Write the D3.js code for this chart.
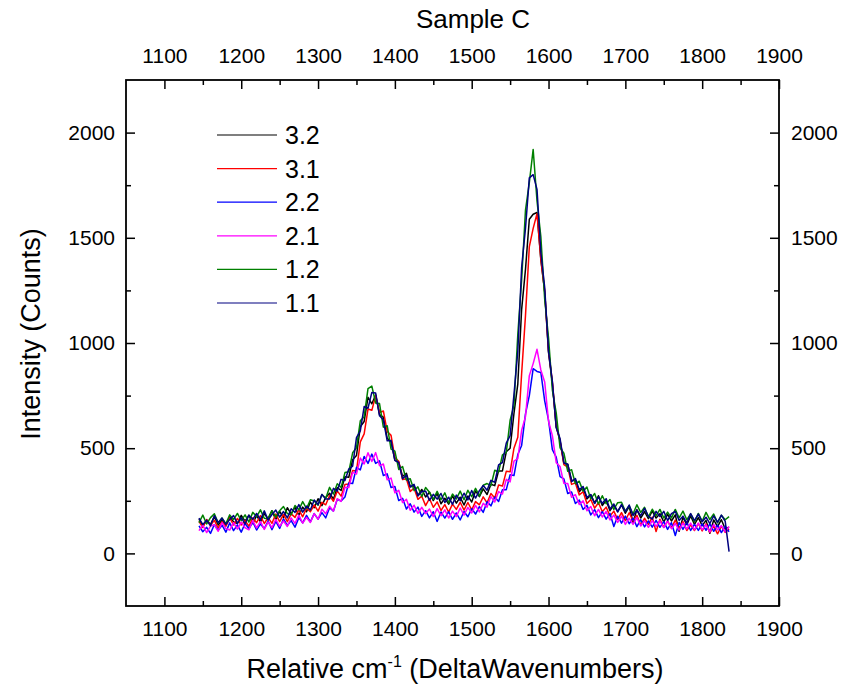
<!DOCTYPE html>
<html>
<head>
<meta charset="utf-8">
<script src="https://cdn.jsdelivr.net/npm/d3@7"></script>
<style>
  body { margin: 0; background: #fff; }
  text { font-family: Arial, "Liberation Sans", sans-serif; fill: #000; }
</style>
</head>
<body>
<div id="chart"></div>
<script>
var wavenumbers = [
  1145,1150,1155,1160,1165,1170,1175,1180,1185,1190,
  1195,1200,1205,1210,1215,1220,1225,1230,1235,1240,
  1245,1250,1255,1260,1265,1270,1275,1280,1285,1290,
  1295,1300,1305,1310,1315,1320,1325,1330,1335,1340,
  1345,1350,1355,1360,1365,1370,1375,1380,1385,1390,
  1395,1400,1405,1410,1415,1420,1425,1430,1435,1440,
  1445,1450,1455,1460,1465,1470,1475,1480,1485,1490,
  1495,1500,1505,1510,1515,1520,1525,1530,1535,1540,
  1545,1550,1555,1560,1565,1570,1575,1580,1585,1590,
  1595,1600,1605,1610,1615,1620,1625,1630,1635,1640,
  1645,1650,1655,1660,1665,1670,1675,1680,1685,1690,
  1695,1700,1705,1710,1715,1720,1725,1730,1735,1740,
  1745,1750,1755,1760,1765,1770,1775,1780,1785,1790,
  1795,1800,1805,1810,1815,1820,1825,1830,1835
];

var s32 = [
  163,129,158,138,174,135,159,131,175,150,
  142,181,153,182,141,180,150,189,165,203,
  160,199,171,217,188,219,181,220,198,244,
  217,260,227,266,286,258,313,299,364,362,
  445,465,602,627,742,711,753,660,648,547,
  532,442,434,366,381,317,320,276,304,268,
  291,251,285,236,262,234,273,239,267,230,
  273,244,297,270,307,280,329,322,392,392,
  483,500,665,805,1160,1350,1588,1612,1620,1395,
  1245,955,807,600,536,428,424,347,348,293,
  313,259,279,239,274,228,252,203,230,199,
  230,191,223,146,208,168,198,165,202,168,
  189,149,186,154,183,105,171,137,178,138,
  170,132,157,96,159,127,160,116,124
];

var s31 = [
  152,123,161,133,157,121,150,130,169,135,
  166,135,155,129,169,146,179,142,170,143,
  187,151,185,151,188,171,208,174,215,198,
  230,201,243,231,275,248,297,272,327,330,
  394,392,530,568,686,680,750,670,677,580,
  561,455,438,351,355,294,310,257,272,227,
  261,219,245,204,232,196,234,209,243,206,
  242,207,246,231,269,240,285,263,325,320,
  390,388,500,552,855,1130,1458,1545,1615,1400,
  1245,965,814,608,534,422,410,328,335,278,
  293,237,256,215,241,198,220,178,201,162,
  194,156,193,154,181,136,167,138,172,104,
  162,124,153,121,158,120,151,109,136,109,
  142,107,141,99,130,93,129,100,115
];

var s22 = [
  131,103,124,95,137,110,134,101,145,108,
  136,101,142,117,149,111,140,118,154,113,
  152,119,164,133,156,125,170,145,181,150,
  189,163,194,169,217,201,257,249,268,335,
  332,409,397,461,428,472,428,440,370,378,
  313,318,251,262,211,236,196,220,176,203,
  169,198,152,197,168,198,162,192,159,199,
  174,213,187,222,195,246,226,268,247,303,
  303,374,370,470,513,663,750,878,865,860,
  725,633,493,458,365,354,285,292,237,254,
  209,229,183,208,170,199,163,190,128,177,
  144,177,141,168,127,160,126,154,125,157,
  124,151,114,146,85,147,114,147,109,138,
  109,140,110,140,105,134,99,130,103
];

var s21 = [
  108,135,99,130,136,105,146,118,111,146,
  115,149,122,112,156,121,152,114,149,123,
  162,129,154,128,169,143,182,144,171,147,
  189,162,210,189,224,201,260,247,314,313,
  385,377,453,425,478,437,479,417,425,350,
  358,288,300,242,257,205,229,190,219,189,
  211,175,213,179,207,168,201,175,216,182,
  219,192,228,197,238,220,270,244,294,282,
  352,340,438,450,585,650,845,902,970,872,
  815,628,560,431,413,333,332,267,279,232,
  250,203,223,179,209,173,199,159,182,147,
  177,138,167,138,170,130,155,124,156,128,
  155,123,154,117,142,111,144,116,144,112,
  144,113,136,102,138,112,132,102,128
];

var s12 = [
  146,182,140,170,188,145,168,141,183,161,
  190,156,183,149,195,175,207,167,165,202,
  173,203,223,189,184,228,207,246,213,255,
  249,229,280,262,314,282,331,314,384,388,
  478,502,630,650,783,795,715,712,600,607,
  496,486,399,413,349,355,299,316,270,313,
  291,257,295,255,288,241,282,259,296,255,
  300,270,309,273,324,332,322,395,387,468,
  480,633,703,1040,1300,1632,1762,1920,1675,1506,
  1208,1025,776,668,502,476,390,398,331,343,
  296,315,259,285,235,274,236,256,209,241,
  243,200,225,187,231,195,219,173,210,180,
  209,168,196,169,209,169,201,160,188,150,
  190,153,195,161,187,145,181,160,175
];

var s11 = [
  168,137,158,131,179,146,168,138,161,180,
  143,170,140,181,162,190,160,202,158,185,
  206,172,199,169,212,195,232,196,225,206,
  254,232,280,258,258,309,296,352,346,401,
  415,550,582,698,690,765,762,654,635,535,
  537,442,432,355,372,316,328,273,294,296,
  252,281,258,285,242,267,233,277,251,286,
  254,299,263,298,323,300,347,338,421,432,
  524,560,755,960,1360,1545,1785,1800,1730,1430,
  1265,960,818,598,546,430,424,341,356,302,
  318,266,280,237,268,238,260,211,235,197,
  232,199,230,180,205,179,214,176,163,200,
  175,200,156,189,199,156,177,144,189,156,
  187,150,172,142,178,148,182,152,8
];

var seriesNames = ['3.2', '3.1', '2.2', '2.1', '1.2', '1.1'];
var seriesColors = ['#000000', '#ff0000', '#0000ff', '#ff00ff', '#008000', '#000080'];
var seriesValues = [s32, s31, s22, s21, s12, s11];

var xMajor = [1100, 1200, 1300, 1400, 1500, 1600, 1700, 1800, 1900];
var xMinor = [1150, 1250, 1350, 1450, 1550, 1650, 1750, 1850];
var yMajor = [0, 500, 1000, 1500, 2000];
var yMinor = [250, 750, 1250, 1750];

var w = 846;
var h = 692;
var plotL = 126, plotR = 779, plotT = 80, plotB = 606;

var svg = d3.select('#chart').append('svg')
  .attr('width', w)
  .attr('height', h);

var x = d3.scaleLinear().domain([1050, 1900]).range([plotL, plotR]);
var y = d3.scaleLinear().domain([-250, 2250]).range([plotB, plotT]);

// spectra, drawn in legend order so 1.1 ends up on top
var line = d3.line()
  .x(function(d) { return x(d[0]); })
  .y(function(d) { return y(d[1]); });

for (var i = 0; i < seriesValues.length; ++i) {
  var pts = wavenumbers.map(function(wn, j) { return [wn, seriesValues[i][j]]; });
  svg.append('path')
    .datum(pts)
    .attr('fill', 'none')
    .attr('stroke', seriesColors[i])
    .attr('stroke-width', 1.5)
    .attr('stroke-linejoin', 'round')
    .attr('d', line);
}

// axes: ticks point inward on all four sides
function styleAxis(g, size) {
  g.select('.domain').remove();
  g.selectAll('line').attr('stroke-width', 1.5);
  g.attr('font-size', size);
}

var major = 9, minor = 5;

svg.append('g').attr('transform', 'translate(0,' + plotB + ')')
  .call(d3.axisBottom(x).tickValues(xMajor).tickSize(-major).tickPadding(15).tickFormat(d3.format('d')))
  .call(styleAxis, 21);
svg.append('g').attr('transform', 'translate(0,' + plotB + ')')
  .call(d3.axisBottom(x).tickValues(xMinor).tickSize(-minor).tickFormat(''))
  .call(styleAxis, 21);

svg.append('g').attr('transform', 'translate(0,' + plotT + ')')
  .call(d3.axisTop(x).tickValues(xMajor).tickSize(-major).tickPadding(17).tickFormat(d3.format('d')))
  .call(styleAxis, 21);
svg.append('g').attr('transform', 'translate(0,' + plotT + ')')
  .call(d3.axisTop(x).tickValues(xMinor).tickSize(-minor).tickFormat(''))
  .call(styleAxis, 21);

svg.append('g').attr('transform', 'translate(' + plotL + ',0)')
  .call(d3.axisLeft(y).tickValues(yMajor).tickSize(-major).tickPadding(11).tickFormat(d3.format('d')))
  .call(styleAxis, 21);
svg.append('g').attr('transform', 'translate(' + plotL + ',0)')
  .call(d3.axisLeft(y).tickValues(yMinor).tickSize(-minor).tickFormat(''))
  .call(styleAxis, 21);

svg.append('g').attr('transform', 'translate(' + plotR + ',0)')
  .call(d3.axisRight(y).tickValues(yMajor).tickSize(-major).tickPadding(12).tickFormat(d3.format('d')))
  .call(styleAxis, 21);
svg.append('g').attr('transform', 'translate(' + plotR + ',0)')
  .call(d3.axisRight(y).tickValues(yMinor).tickSize(-minor).tickFormat(''))
  .call(styleAxis, 21);

svg.append('rect')
  .attr('x', plotL)
  .attr('y', plotT)
  .attr('width', plotR - plotL)
  .attr('height', plotB - plotT)
  .attr('fill', 'none')
  .attr('stroke', '#000')
  .attr('stroke-width', 1.8);

// titles
svg.append('text')
  .attr('x', 473)
  .attr('y', 28)
  .attr('text-anchor', 'middle')
  .attr('font-size', 26)
  .text('Sample C');

var xl = svg.append('text')
  .attr('x', 455)
  .attr('y', 678)
  .attr('text-anchor', 'middle')
  .attr('font-size', 27);
xl.append('tspan').text('Relative cm');
xl.append('tspan').attr('dy', -11).attr('font-size', 16).text('-1');
xl.append('tspan').attr('dy', 11).text(' (DeltaWavenumbers)');

svg.append('text')
  .attr('transform', 'translate(40,334) rotate(-90)')
  .attr('text-anchor', 'middle')
  .attr('font-size', 27)
  .text('Intensity (Counts)');

// legend
var legend = svg.append('g');
for (var i = 0; i < seriesNames.length; ++i) {
  var ly = 135 + i * 33.6;
  legend.append('line')
    .attr('x1', 217)
    .attr('x2', 277)
    .attr('y1', ly)
    .attr('y2', ly)
    .attr('stroke', seriesColors[i])
    .attr('stroke-width', 1.2);
  legend.append('text')
    .attr('x', 285)
    .attr('y', ly)
    .attr('dy', '0.36em')
    .attr('font-size', 25)
    .text(seriesNames[i]);
}
</script>
</body>
</html>
